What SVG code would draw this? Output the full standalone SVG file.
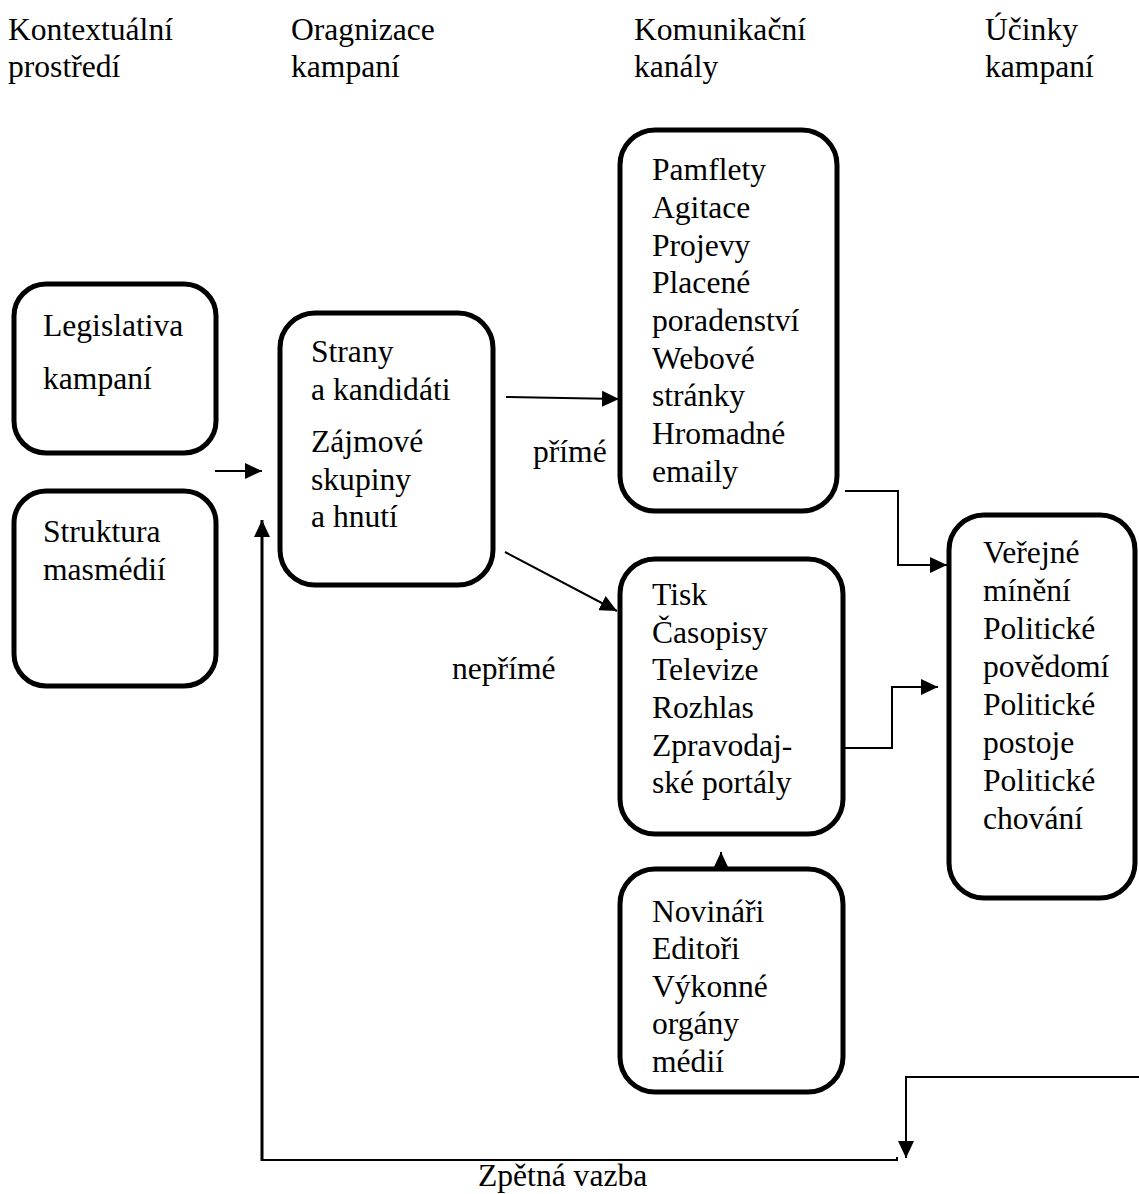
<svg xmlns="http://www.w3.org/2000/svg" width="1139" height="1194" viewBox="0 0 1139 1194">
<style>
text{font-family:"Liberation Serif","Times New Roman",serif;font-size:31.6px;fill:#000}
.box{fill:#fff;stroke:#000;stroke-width:5}
.c{fill:none;stroke:#000;stroke-width:2}
</style>
<defs>
<marker id="ah" markerUnits="userSpaceOnUse" markerWidth="18" markerHeight="16" refX="17" refY="8" orient="auto">
<path d="M0,0 L17,8 L0,16 Z" fill="#000"/>
</marker>
</defs>
<rect width="1139" height="1194" fill="#fff"/>
<g id="headers">
<text x="8" y="40">Kontextuální</text><text x="8" y="77">prostředí</text>
<text x="291" y="40">Oragnizace</text><text x="291" y="77">kampaní</text>
<text x="634" y="40">Komunikační</text><text x="634" y="77">kanály</text>
<text x="985" y="40">Účinky</text><text x="985" y="77">kampaní</text>
</g>
<g id="n-legislativa"><rect class="box" x="14" y="284" width="202" height="169" rx="32"/>
<text x="43" y="336">Legislativa</text><text x="43" y="389">kampaní</text></g>
<g id="n-struktura"><rect class="box" x="14" y="491" width="202" height="195" rx="32"/>
<text x="43" y="542">Struktura</text><text x="43" y="580">masmédií</text></g>
<g id="n-strany"><rect class="box" x="280" y="313" width="213" height="272" rx="35"/>
<text x="311" y="362">Strany</text><text x="311" y="400">a kandidáti</text>
<text x="311" y="452">Zájmové</text><text x="311" y="490">skupiny</text><text x="311" y="527">a hnutí</text></g>
<g id="n-pamflety"><rect class="box" x="620" y="130" width="217" height="381" rx="35"/>
<text x="652" y="180">Pamflety</text><text x="652" y="218">Agitace</text><text x="652" y="256">Projevy</text>
<text x="652" y="293">Placené</text><text x="652" y="331">poradenství</text><text x="652" y="369">Webové</text>
<text x="652" y="406">stránky</text><text x="652" y="444">Hromadné</text><text x="652" y="482">emaily</text></g>
<g id="n-tisk"><rect class="box" x="620" y="559" width="223" height="275" rx="35"/>
<text x="652" y="605">Tisk</text><text x="652" y="643">Časopisy</text><text x="652" y="680">Televize</text>
<text x="652" y="718">Rozhlas</text><text x="652" y="756">Zpravodaj-</text><text x="652" y="793">ské portály</text></g>
<g id="n-novinari"><rect class="box" x="620" y="869" width="223" height="223" rx="35"/>
<text x="652" y="922">Novináři</text><text x="652" y="959">Editoři</text><text x="652" y="997">Výkonné</text>
<text x="652" y="1034">orgány</text><text x="652" y="1072">médií</text></g>
<g id="n-ucinky"><rect class="box" x="949" y="515" width="186" height="383" rx="35"/>
<text x="983" y="563">Veřejné</text><text x="983" y="601">mínění</text><text x="983" y="639">Politické</text>
<text x="983" y="677">povědomí</text><text x="983" y="715">Politické</text><text x="983" y="753">postoje</text>
<text x="983" y="791">Politické</text><text x="983" y="829">chování</text></g>
<g id="connectors">
<path class="c" d="M215,471 H262" marker-end="url(#ah)"/>
<path class="c" d="M506,397 L619,399" marker-end="url(#ah)"/>
<path class="c" d="M505,552 L617,611" marker-end="url(#ah)"/>
<path class="c" d="M845,491 H898 V565 H947" marker-end="url(#ah)"/>
<path class="c" d="M845,748 H892 V687 H938" marker-end="url(#ah)"/>
<path class="c" d="M721,867 V852" marker-end="url(#ah)"/>
<path class="c" d="M1139,1077 H906 V1158" marker-end="url(#ah)"/>
<path class="c" d="M897,1157 V1160 H262" />
<path class="c" style="stroke-width:3" d="M262,1161 V520" marker-end="url(#ah)"/>
<text x="533" y="462">přímé</text>
<text x="452" y="679">nepřímé</text>
<text x="478" y="1186">Zpětná vazba</text>
</g>
</svg>
